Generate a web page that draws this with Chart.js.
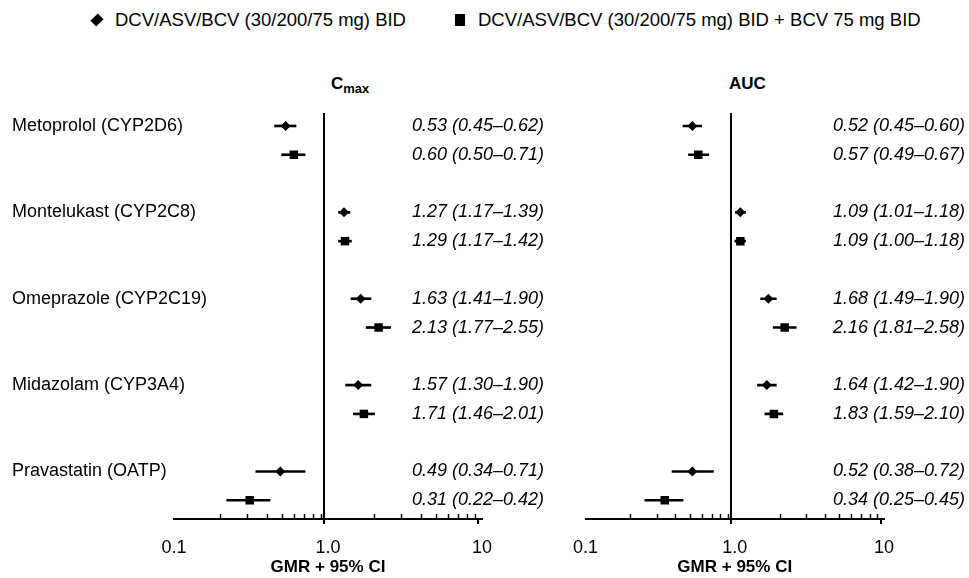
<!doctype html>
<html lang="en">
  <head>
    <meta charset="UTF-8" />
    <meta name="viewport" content="width=device-width, initial-scale=1.0" />
    <title>GMR forest plot</title>
    <script src="https://cdn.jsdelivr.net/npm/chart.js"></script>
    <style>
      body { margin: 0; background: #fff; font-family: 'Liberation Sans', Arial, sans-serif; color: #000; }
      #wrap { position: relative; width: 969px; height: 578px; overflow: hidden; }
      .box { position: absolute; top: 60px; height: 518px; }
      .legend { position: absolute; top: 9px; font-size: 18.5px; line-height: 22px; white-space: nowrap; }
      .dia { position: absolute; width: 8px; height: 8px; background: #000; transform: rotate(45deg) scaleY(1.3); }
      .sq { position: absolute; width: 10px; height: 12px; background: #000; }
      .ttl { position: absolute; top: 74px; font-weight: bold; font-size: 17px; white-space: nowrap; }
      .ttl sub { font-size: 13px; vertical-align: -4px; }
    </style>
  </head>
  <body>
    <div id="wrap">
      <span class="dia" style="left:93px; top:16px"></span>
      <div class="legend" style="left:115px">DCV/ASV/BCV (30/200/75 mg) BID</div>
      <span class="sq" style="left:455px; top:14px"></span>
      <div class="legend" style="left:478px">DCV/ASV/BCV (30/200/75 mg) BID + BCV 75 mg BID</div>
      <div class="ttl" style="left:331px">C<sub>max</sub></div>
      <div class="ttl" style="left:729px">AUC</div>
      <div class="box" style="left:0; width:550px"><canvas id="cmax"></canvas></div>
      <div class="box" style="left:560px; width:409px"><canvas id="auc"></canvas></div>
    </div>
    <script>
      const drugs = ['Metoprolol (CYP2D6)', 'Montelukast (CYP2C8)', 'Omeprazole (CYP2C19)', 'Midazolam (CYP3A4)', 'Pravastatin (OATP)']

      // DCV/ASV/BCV BID
      const cmaxBid = [0.53, 1.27, 1.63, 1.57, 0.49]
      const cmaxBidLo = [0.45, 1.17, 1.41, 1.30, 0.34]
      const cmaxBidHi = [0.62, 1.39, 1.90, 1.90, 0.71]
      // DCV/ASV/BCV BID + BCV 75 mg BID
      const cmaxBcv = [0.60, 1.29, 2.13, 1.71, 0.31]
      const cmaxBcvLo = [0.50, 1.17, 1.77, 1.46, 0.22]
      const cmaxBcvHi = [0.71, 1.42, 2.55, 2.01, 0.42]

      const aucBid = [0.52, 1.09, 1.68, 1.64, 0.52]
      const aucBidLo = [0.45, 1.01, 1.49, 1.42, 0.38]
      const aucBidHi = [0.60, 1.18, 1.90, 1.90, 0.72]
      const aucBcv = [0.57, 1.09, 2.16, 1.83, 0.34]
      const aucBcvLo = [0.49, 1.00, 1.81, 1.59, 0.25]
      const aucBcvHi = [0.67, 1.18, 2.58, 2.10, 0.45]

      const xTicks = [0.1, 0.2, 0.3, 0.4, 0.5, 0.6, 0.7, 0.8, 0.9, 1, 2, 3, 4, 5, 6, 7, 8, 9, 10]
      const xMajor = { 0.1: '0.1', 1: '1.0', 10: '10' }

      const FONT = "'Liberation Sans', Arial, sans-serif"
      const groupRow = (i) => i * 3 // diamond row, square sits one below
      const fmt = (v, lo, hi) => `${v.toFixed(2)} (${lo.toFixed(2)}\u2013${hi.toFixed(2)})`

      const minorTicks = {
        id: 'minorTicks',
        afterDraw(chart) {
          const x = chart.scales.x
          const c = chart.ctx
          c.save()
          c.strokeStyle = '#000'
          c.lineWidth = 1.5
          x.ticks.forEach((t) => {
            if (xMajor[t.value]) return
            const px = Math.round(x.getPixelForValue(t.value)) + 0.5
            c.beginPath()
            c.moveTo(px, x.top)
            c.lineTo(px, x.top - 5)
            c.stroke()
          })
          c.restore()
        }
      }

      function makeChart(id, bid, bidLo, bidHi, bcv, bcvLo, bcvHi, opts) {
        const rows = []
        const texts = []
        drugs.forEach((d, i) => {
          rows.push(groupRow(i), groupRow(i) + 1)
          texts.push(fmt(bid[i], bidLo[i], bidHi[i]), fmt(bcv[i], bcvLo[i], bcvHi[i]))
        })
        const yRange = { min: -0.45, max: 13.65, reverse: true, offset: false }

        return new Chart(document.getElementById(id), {
          type: 'bar',
          data: {
            datasets: [
              {
                indexAxis: 'y',
                grouped: false,
                barThickness: 2,
                backgroundColor: '#000',
                data: drugs.map((d, i) => ({ x: [bidLo[i], bidHi[i]], y: groupRow(i) }))
              },
              {
                indexAxis: 'y',
                grouped: false,
                barThickness: 2,
                backgroundColor: '#000',
                data: drugs.map((d, i) => ({ x: [bcvLo[i], bcvHi[i]], y: groupRow(i) + 1 }))
              },
              {
                type: 'scatter',
                pointStyle: 'rectRot',
                pointRadius: 5,
                backgroundColor: '#000',
                borderWidth: 0,
                data: drugs.map((d, i) => ({ x: bid[i], y: groupRow(i) }))
              },
              {
                type: 'scatter',
                pointStyle: 'rect',
                pointRadius: 6,
                backgroundColor: '#000',
                borderWidth: 0,
                data: drugs.map((d, i) => ({ x: bcv[i], y: groupRow(i) + 1 }))
              }
            ]
          },
          options: {
            responsive: true,
            maintainAspectRatio: false,
            animation: false,
            layout: { padding: opts.padding },
            plugins: { legend: { display: false }, tooltip: { enabled: false } },
            scales: {
              x: {
                type: 'logarithmic',
                min: 0.1,
                max: 10,
                afterBuildTicks: (s) => { s.ticks = xTicks.map((v) => ({ value: v })) },
                afterFit: (s) => { s.height = 59 },
                border: { display: true, color: '#000', width: 2 },
                grid: {
                  drawOnChartArea: true,
                  color: (c) => (c.tick && c.tick.value === 1 ? '#000' : 'rgba(0,0,0,0)'),
                  lineWidth: 2,
                  tickColor: (c) => (c.tick && xMajor[c.tick.value] ? '#000' : 'rgba(0,0,0,0)'),
                  tickLength: 5,
                  tickWidth: 2
                },
                ticks: {
                  autoSkip: false,
                  maxRotation: 0,
                  padding: 13,
                  color: '#000',
                  font: { family: FONT, size: 18 },
                  callback: (v) => xMajor[v] || ''
                },
                title: {
                  display: true,
                  text: 'GMR + 95% CI',
                  color: '#000',
                  padding: { top: 0, bottom: 0 },
                  font: { family: FONT, size: 17, weight: 'bold' }
                }
              },
              y: {
                type: 'linear',
                ...yRange,
                display: opts.showDrugs,
                afterBuildTicks: (s) => { s.ticks = drugs.map((d, i) => ({ value: groupRow(i) })) },
                afterFit: (s) => {
                  s.width = opts.drugWidth
                  s.paddingTop = 0
                  s.paddingBottom = 0
                },
                grid: { display: false, offset: false },
                border: { display: false },
                ticks: {
                  autoSkip: false,
                  mirror: true, // mirrored labels are not clipped to the axis box
                  padding: -opts.drugWidth,
                  crossAlign: 'near',
                  color: '#000',
                  font: { family: FONT, size: 18 },
                  callback: (v, i) => drugs[i]
                }
              },
              yr: {
                type: 'linear',
                position: 'right',
                ...yRange,
                afterBuildTicks: (s) => { s.ticks = rows.map((v) => ({ value: v })) },
                afterFit: (s) => {
                  s.width = opts.textWidth
                  s.paddingTop = 0
                  s.paddingBottom = 0
                },
                grid: { display: false },
                border: { display: false },
                ticks: {
                  autoSkip: false,
                  mirror: true,
                  padding: opts.textWidth,
                  crossAlign: 'near',
                  color: '#000',
                  font: { family: FONT, size: 18, style: 'italic' },
                  callback: (v, i) => texts[i]
                }
              }
            }
          },
          plugins: [minorTicks]
        })
      }

      makeChart('cmax', cmaxBid, cmaxBidLo, cmaxBidHi, cmaxBcv, cmaxBcvLo, cmaxBcvHi, {
        padding: { top: 53, left: 12, right: 6, bottom: 0 },
        showDrugs: true,
        drugWidth: 162,
        textWidth: 62
      })
      makeChart('auc', aucBid, aucBidLo, aucBidHi, aucBcv, aucBcvLo, aucBcvHi, {
        padding: { top: 53, left: 21, right: 4, bottom: 0 },
        showDrugs: false,
        drugWidth: 0,
        textWidth: 81
      })
    </script>
  </body>
</html>
